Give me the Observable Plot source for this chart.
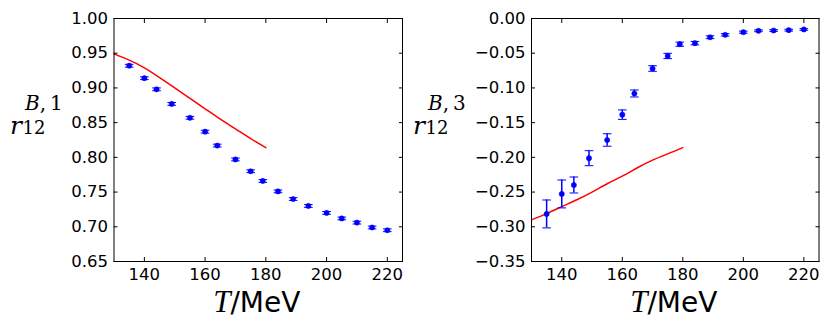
<!DOCTYPE html>
<html><head><meta charset="utf-8">
<script src="https://cdn.jsdelivr.net/npm/d3@7"></script>
<script src="https://cdn.jsdelivr.net/npm/@observablehq/plot@0.6"></script>
<style>
body{margin:0;background:#fff;}
#wrap{display:flex;width:830px;height:328px;}
#wrap svg{overflow:visible;}
</style></head><body><div id="wrap"></div>
<script>
// ---- data ----
const temps = [135,140,144,149,155,160,164,170,175,179,184,189,194,200,205,210,215,220];
const r1 = [0.932,0.914,0.898,0.877,0.857,0.837,0.817,0.797,0.780,0.766,0.751,0.740,0.730,0.720,0.712,0.706,0.699,0.695];
const r1Err = [0.002,0.002,0.002,0.002,0.002,0.002,0.002,0.002,0.002,0.002,0.002,0.002,0.002,0.002,0.002,0.002,0.002,0.002];
const r3 = [-0.2815,-0.2527,-0.2398,-0.2012,-0.1750,-0.1385,-0.1080,-0.0720,-0.0540,-0.0370,-0.0355,-0.0270,-0.0235,-0.0197,-0.0177,-0.0173,-0.0168,-0.0158];
const r3Err = [0.0201,0.0201,0.0115,0.0108,0.0090,0.0068,0.0050,0.0040,0.0038,0.0030,0.0025,0.0020,0.0017,0.0015,0.0013,0.0013,0.0013,0.0012];
const lineT = [130,135,140,145,150,155,160,165,170,175,180];
const line1 = [0.949,0.940,0.929,0.915,0.900,0.885,0.870,0.855,0.841,0.827,0.814];
const line3 = [-0.290,-0.281,-0.271,-0.261,-0.250,-0.238,-0.227,-0.215,-0.204,-0.195,-0.186];
const xTicks = [140,160,180,200,220];
const yTicks1 = [0.65,0.70,0.75,0.80,0.85,0.90,0.95,1.00];
const yTicks3 = [-0.35,-0.30,-0.25,-0.20,-0.15,-0.10,-0.05,0.00];

const blue = "#0000ff";
const capSymbol = {draw(ctx, size){const w = Math.sqrt(size/Math.PI); ctx.moveTo(-w,0); ctx.lineTo(w,0);}};

function panel({width, marginLeft, marginRight, yDomain, yTicks, values, errors, lineVals, sup, labelX}) {
  const pts = temps.map((T,i)=>({T, y: values[i], e: errors[i]}));
  const line = lineT.map((T,i)=>({T, y: lineVals[i]}));
  const marginTop = 18, marginBottom = 67, height = 328;
  const plot = Plot.plot({
    width, height, marginLeft, marginRight, marginTop, marginBottom,
    style: {fontFamily: "DejaVu Sans", fontSize: "16.5px", color: "black", background: "white", overflow: "visible"},
    x: {domain: [130, 225]},
    y: {domain: yDomain},
    marks: [
      Plot.line(line, {x: "T", y: "y", stroke: "#ff0000", strokeWidth: 1.5, curve: "natural"}),
      Plot.ruleX(pts, {x: "T", y1: d => d.y - d.e, y2: d => d.y + d.e, stroke: blue, strokeWidth: 1.5}),
      Plot.dot(pts, {x: "T", y: d => d.y + d.e, symbol: capSymbol, r: 4.3, stroke: blue, strokeWidth: 1, fill: "none"}),
      Plot.dot(pts, {x: "T", y: d => d.y - d.e, symbol: capSymbol, r: 4.3, stroke: blue, strokeWidth: 1, fill: "none"}),
      Plot.dot(pts, {x: "T", y: "y", r: 2.6, fill: blue, stroke: blue, strokeWidth: 0.5}),
      Plot.frame({stroke: "black", strokeWidth: 1}),
      Plot.axisX({anchor: "bottom", ticks: xTicks, tickSize: -4, tickPadding: 11, tickFormat: d3.format("d"), label: null}),
      Plot.axisX({anchor: "top", ticks: xTicks, tickSize: -4, text: null, label: null}),
      Plot.axisY({anchor: "left", ticks: yTicks, tickSize: -4, tickPadding: 10, tickFormat: d3.format(".2f"), label: null}),
      Plot.axisY({anchor: "right", ticks: yTicks, tickSize: -4, text: null, label: null})
    ]
  });
  const svg = d3.select(plot);
  const cx = marginLeft + (width - marginLeft - marginRight) / 2 - 1;
  // x label
  const xl = svg.append("text").attr("x", cx).attr("y", 312).attr("text-anchor", "middle")
    .attr("fill", "black").style("font-size", "28px").style("font-family", "DejaVu Sans");
  xl.append("tspan").style("font-family", "Liberation Serif").style("font-style", "italic").style("font-size", "31px").text("T");
  xl.append("tspan").text("/MeV");
  // y label (one text element, positioned tspans)
  const yl = svg.append("text").attr("fill", "black").attr("text-anchor", "start").style("font-family", "DejaVu Serif");
  yl.append("tspan").attr("x", labelX).attr("y", 134).style("font-style", "italic").style("font-size", "25px").text("r");
  yl.append("tspan").attr("x", labelX + 12.5).attr("y", 134).style("font-size", "18px").text("12");
  yl.append("tspan").attr("x", labelX + 15).attr("y", 110).style("font-style", "italic").style("font-size", "20px").text("B");
  yl.append("tspan").style("font-size", "20px").text(",");
  yl.append("tspan").attr("x", labelX + 40).style("font-size", "20px").text(sup);
  return plot;
}

const wrap = document.getElementById("wrap");
wrap.appendChild(panel({width: 410, marginLeft: 113.5, marginRight: 8, yDomain: [0.65, 1.0], yTicks: yTicks1,
  values: r1, errors: r1Err, lineVals: line1, sup: "1", labelX: 10}));
wrap.appendChild(panel({width: 420, marginLeft: 121, marginRight: 11.5, yDomain: [-0.35, 0], yTicks: yTicks3,
  values: r3, errors: r3Err, lineVals: line3, sup: "3", labelX: 3}));
</script></body></html>
